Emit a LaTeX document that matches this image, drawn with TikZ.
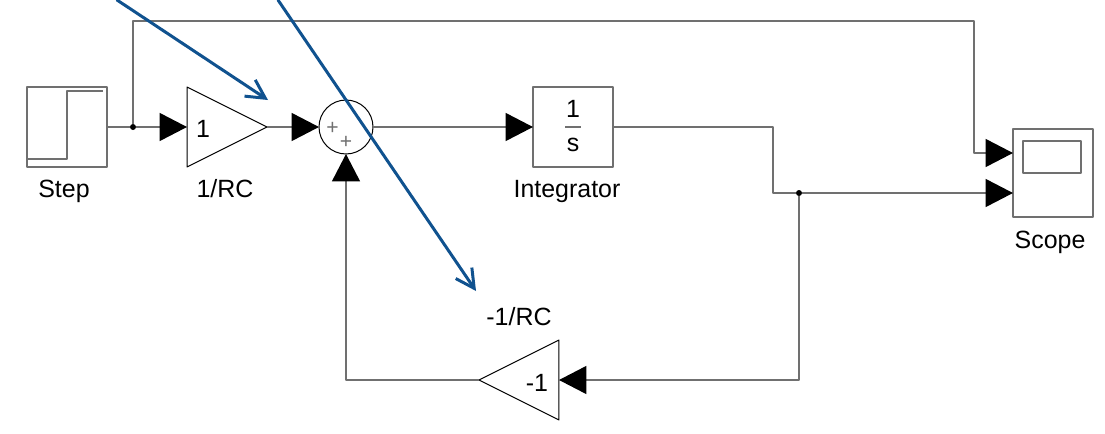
\documentclass[tikz,border=0pt]{standalone}
\usepackage{fontspec}
\setmainfont{Liberation Sans}
\usetikzlibrary{arrows.meta,shapes.geometric}
\definecolor{wiregray}{HTML}{707070}
\definecolor{noteblue}{HTML}{10528F}
\tikzset{
    blockbox/.style={draw=wiregray, line width=0.035cm, minimum width=1.6cm, minimum height=1.6cm, outer sep=0pt, inner sep=0pt},
    gainbox/.style={isosceles triangle, isosceles triangle stretches, draw=black, line width=0.02cm, minimum width=1.6cm, minimum height=1.6cm, outer sep=0pt, inner sep=0pt},
    sumbox/.style={circle, draw=black, line width=0.02cm, minimum size=1.08cm, outer sep=0pt, inner sep=0pt},
    junction/.style={circle, fill=black, minimum size=0.12cm, outer sep=0pt, inner sep=0pt},
    wire/.style={draw=wiregray, line width=0.035cm},
    signal/.style={wire, -{Triangle[length=0.55cm, width=0.56cm, color=black]}},
    notearrow/.style={draw=noteblue, line width=0.06cm, line cap=round, -{Straight Barb[length=0.37cm, width=0.39cm]}},
    blocktext/.style={anchor=base, inner sep=0pt, font=\fontsize{14.2}{16}\selectfont},
    plustext/.style={anchor=base, inner sep=0pt, text=wiregray, font=\fontsize{12}{14}\selectfont}
}
\begin{document}
\begin{tikzpicture}[line join=round, x=0.02cm, y=-0.02cm]
    \clip (0, 0) rectangle (1105, 433);
    % blocks
    \node[blockbox] (step) at (67, 127) {};
    \node[gainbox, anchor=apex] (gainin) at (267, 127) {};
    \node[sumbox] (sum) at (346, 127) {};
    \node[blockbox] (integ) at (573, 127) {};
    \node[gainbox, shape border rotate=180, anchor=apex] (gainfb) at (479, 380) {};
    \node[blockbox, minimum height=1.76cm] (scope) at (1053, 173) {};
    \node[draw=wiregray, line width=0.03cm, minimum width=1.16cm, minimum height=0.64cm, inner sep=0pt] (screen) at (1052, 157) {};
    \draw[wire] (27, 159) -- (67, 159) -- (67, 91) -- (103, 91);
    \draw[wire] (565, 127) -- (581, 127);
    % junctions and corners
    \node[junction] (branchin) at (133, 127) {};
    \node[junction] (branchout) at (799, 193) {};
    \coordinate (cornertop) at (974, 21);
    \coordinate (cornerout) at (773, 193);
    \coordinate (scopea) at (1013, 153);
    \coordinate (scopeb) at (1013, 193);
    % wires
    \draw[wire] (step.east) -- (branchin);
    \draw[signal] (branchin) -- (gainin.lower side);
    \draw[signal] (gainin.apex) -- (sum.west);
    \draw[signal] (sum.east) -- (integ.west);
    \draw[wire] (integ.east) -| (cornerout) -- (branchout);
    \draw[signal] (branchout) -- (scopeb);
    \draw[signal] (branchin) |- (cornertop) |- (scopea);
    \draw[signal] (branchout) |- (gainfb.lower side);
    \draw[signal] (gainfb.apex) -| (sum.south);
    % texts
    \foreach \name/\xpos/\ypos/\txt in {tstep/64/197/Step, tgainin/225/197/{1/RC}, tinteg/567/197/Integrator,
            tscope/1050/248/Scope, tgainfb/519/325/{-1/RC}, tone/203/137/1, tminus/537/391/-1,
            tnum/573/117/1, tden/573/151/s}
        \node[blocktext] (\name) at (\xpos, \ypos) {\txt};
    \node[plustext] (tplusa) at (332.5, 134.5) {+};
    \node[plustext] (tplusb) at (346, 148.5) {+};
    % blue arrows
    \coordinate (notea) at (117, 0);
    \coordinate (noteb) at (278, 0);
    \coordinate (noteaend) at (268, 100);
    \coordinate (notebend) at (476, 291);
    \draw[notearrow] (notea) -- (noteaend);
    \draw[notearrow] (noteb) -- (notebend);
\end{tikzpicture}
\end{document}
